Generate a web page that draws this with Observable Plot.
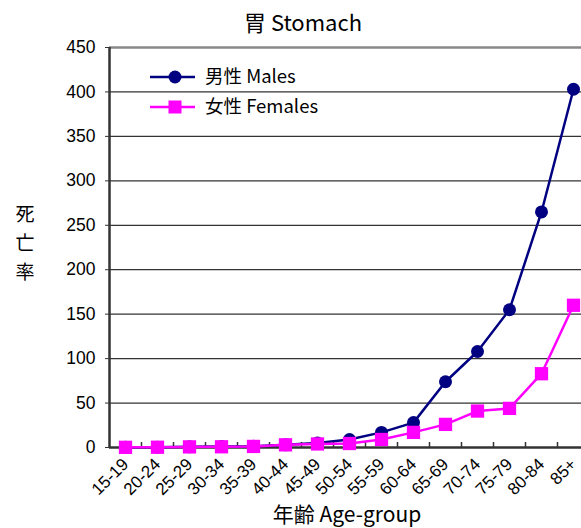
<!DOCTYPE html>
<html><head><meta charset="utf-8">
<script src="https://cdn.jsdelivr.net/npm/d3@7"></script>
<script src="https://cdn.jsdelivr.net/npm/@observablehq/plot@0.6"></script>
<style>
html,body{margin:0;padding:0;background:#fff;overflow:hidden;width:581px;height:528px;}
#wrap{position:relative;width:581px;height:528px;font-family:"Noto Sans CJK JP","Liberation Sans",sans-serif;}
.ov{position:absolute;white-space:nowrap;color:#000;}
</style></head><body>
<div id="wrap"></div>
<script>
const ageGroups = ["15-19","20-24","25-29","30-34","35-39","40-44","45-49","50-54","55-59","60-64","65-69","70-74","75-79","80-84","85+"];
const males   = [0.2,0.4,0.8,1.0,1.5,3.0,5.0,9.0,17,28,74,108,155,265,403];
const females = [0.2,0.3,0.7,0.8,1.2,3.0,4.0,4.5,9,17,26,41,44,83,160];
const yTicks = [0,50,100,150,200,250,300,350,400,450];
const seriesNames = ["男性 Males","女性 Females"];
const colors = ["#000080","#FF00FF"];

const rows = [];
ageGroups.forEach((g,i)=>{
  rows.push({i, g, v: males[i], s: seriesNames[0]});
  rows.push({i, g, v: females[i], s: seriesNames[1]});
});
const mRows = rows.filter(d=>d.s===seriesNames[0]);
const fRows = rows.filter(d=>d.s===seriesNames[1]);
const boundaries = d3.range(ageGroups.length).map(i=>i+0.5);

const chart = Plot.plot({
  width: 581, height: 528,
  marginLeft: 109, marginRight: -8, marginTop: 47, marginBottom: 81,
  style: {fontFamily: "Liberation Sans, sans-serif", background: "white", overflow: "hidden"},
  x: {type: "linear", domain: [-0.5, ageGroups.length - 0.5]},
  y: {domain: [0, 450]},
  marks: [
    Plot.ruleY(yTicks.filter(t=>t>0 && t<450), {stroke: "#333", strokeWidth: 1.3}),
    Plot.ruleY([450], {stroke: "#888", strokeWidth: 2.5}),
    Plot.axisY({ticks: yTicks, tickSize: 4, tickPadding: 10, fontSize: 17.5, label: null, fill: "#000", stroke: "#333"}),
    Plot.axisX({ticks: boundaries, tickSize: -5, tickFormat: () => "", label: null, stroke: "#333", strokeWidth: 1.5}),
    Plot.axisX({ticks: d3.range(ageGroups.length), tickSize: 0, tickPadding: 14, tickRotate: -45,
      tickFormat: i => ageGroups[i], fontSize: 17, label: null, fill: "#000",
      fontFamily: "Liberation Sans, sans-serif"}),
    Plot.ruleX([-0.5], {stroke: "#333", strokeWidth: 2.5}),
    Plot.ruleY([0], {stroke: "#333", strokeWidth: 2.5}),
    Plot.line(mRows, {x: "i", y: "v", stroke: colors[0], strokeWidth: 2.5}),
    Plot.line(fRows, {x: "i", y: "v", stroke: colors[1], strokeWidth: 2.5}),
    Plot.dot(mRows, {x: "i", y: "v", r: 6.5, fill: colors[0], symbol: "circle"}),
    Plot.dot(fRows, {x: "i", y: "v", r: 7.5, fill: colors[1], symbol: "square"})
  ]
});
const wrap = document.getElementById("wrap");
wrap.appendChild(chart);

function ov(html, style){
  const d = document.createElement("div");
  d.className = "ov"; d.innerHTML = html; Object.assign(d.style, style);
  wrap.appendChild(d); return d;
}
ov("胃 Stomach", {left:"0", width:"606px", textAlign:"center", top:"6px", fontSize:"22px", lineHeight:"30px"});
ov("死<br>亡<br>率", {left:"13px", width:"24px", textAlign:"center", top:"198px", fontSize:"19px", lineHeight:"29px"});
ov("年齢 Age-group", {left:"0", width:"694px", textAlign:"center", top:"499px", fontSize:"21px", lineHeight:"28px"});

// legend
const leg = document.createElementNS("http://www.w3.org/2000/svg","svg");
leg.setAttribute("width","220"); leg.setAttribute("height","60");
leg.style.position="absolute"; leg.style.left="148px"; leg.style.top="62px";
seriesNames.forEach((n,k)=>{
  const y = 15 + k*30;
  const ns = "http://www.w3.org/2000/svg";
  const l = document.createElementNS(ns,"line");
  l.setAttribute("x1",2); l.setAttribute("x2",47); l.setAttribute("y1",y); l.setAttribute("y2",y);
  l.setAttribute("stroke",colors[k]); l.setAttribute("stroke-width",2.5); leg.appendChild(l);
  let m;
  if(k===0){ m=document.createElementNS(ns,"circle"); m.setAttribute("cx",27); m.setAttribute("cy",y); m.setAttribute("r",6.5); }
  else { m=document.createElementNS(ns,"rect"); m.setAttribute("x",20.5); m.setAttribute("y",y-6.5); m.setAttribute("width",13); m.setAttribute("height",13); }
  m.setAttribute("fill",colors[k]); leg.appendChild(m);
  const t = document.createElementNS(ns,"text");
  t.setAttribute("x",57); t.setAttribute("y",y); t.setAttribute("dy","0.35em");
  t.setAttribute("font-size","18.5"); t.setAttribute("font-family","Noto Sans CJK JP, sans-serif");
  t.textContent = n; leg.appendChild(t);
});
wrap.appendChild(leg);
</script>
</body></html>
